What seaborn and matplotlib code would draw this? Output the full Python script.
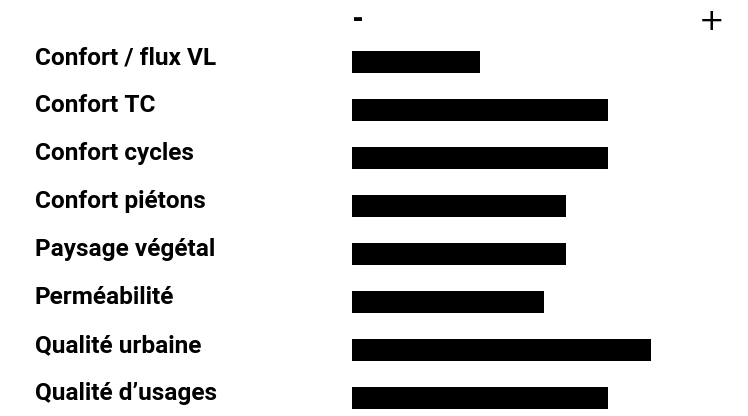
import matplotlib
matplotlib.use("Agg")
import matplotlib.pyplot as plt
import matplotlib.transforms as mtransforms
import seaborn as sns
import pandas as pd

# Criteria and their scores
criteres = [
    "Confort / flux VL",
    "Confort TC",
    "Confort cycles",
    "Confort piétons",
    "Paysage végétal",
    "Perméabilité",
    "Qualité urbaine",
    "Qualité d’usages",
]
scores = [6, 12, 12, 10, 10, 9, 14, 12]
echelle = ["-", "+"]

df = pd.DataFrame({"critere": criteres, "score": scores})

sns.set_theme(style="white")
plt.rcParams["font.family"] = ["Roboto", "DejaVu Sans"]

W, H, DPI = 748, 416, 100
fig = plt.figure(figsize=(W / DPI, H / DPI), dpi=DPI)
fig.patch.set_facecolor("white")

# Axes spanning from the bars' origin to the right edge of the scale
x0_px, x1_px = 352, 722
ax = fig.add_axes([x0_px / W, 0, (x1_px - x0_px) / W, 1])

sns.barplot(data=df, x="score", y="critere", orient="h", color="black",
            width=0.46, saturation=1, ax=ax, edgecolor="none")

px_per_unit = 21.35
ax.set_xlim(0, (x1_px - x0_px) / px_per_unit)
row_px, first_px = 48, 62
ax.set_ylim((H - first_px) / row_px, -first_px / row_px)

ax.set_axis_off()

# Category labels on the left, aligned at a fixed pixel column
lab_tr = mtransforms.blended_transform_factory(fig.transFigure, ax.transData)
off = mtransforms.ScaledTranslation(0, -2.5 / DPI, fig.dpi_scale_trans)
for i, name in enumerate(criteres):
    fig.text(35 / W, i, name, transform=lab_tr + off, ha="left",
             va="baseline", fontsize=17.6, fontweight="bold", color="black")

# Scale markers above the bars
top_tr = mtransforms.blended_transform_factory(ax.transData, fig.transFigure)
ax.text(0, 1 - 20 / H, echelle[0], transform=top_tr, ha="left", va="center",
        fontsize=24, fontweight="bold", color="black",
        family=["Roboto Condensed"])
ax.text((712 - x0_px) / px_per_unit, 1 - 21 / H, echelle[1], transform=top_tr,
        ha="center", va="center", fontsize=22, color="black",
        family=["DejaVu Sans"])

fig.savefig("out.png", dpi=DPI, facecolor="white")
